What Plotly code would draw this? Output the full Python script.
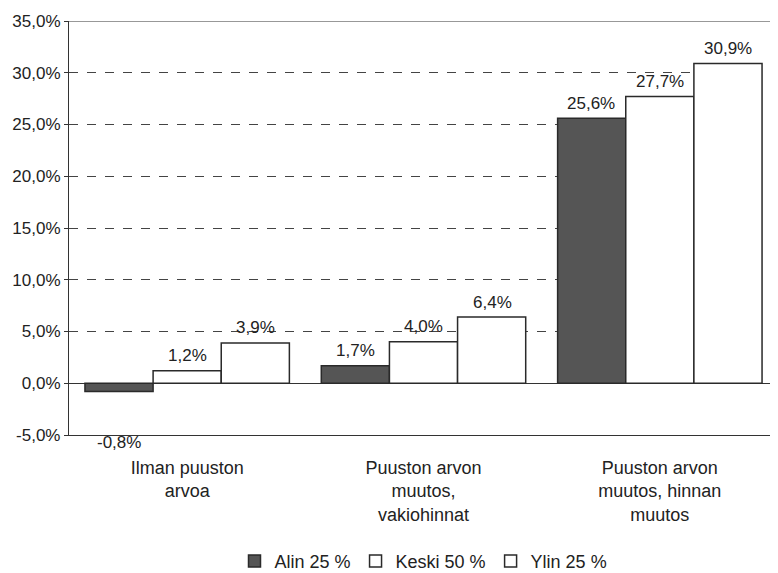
import plotly.graph_objects as go

categories = ["Ilman puuston<br>arvoa", "Puuston arvon<br>muutos,<br>vakiohinnat", "Puuston arvon<br>muutos, hinnan<br>muutos"]
series_names = ["Alin 25 %", "Keski 50 %", "Ylin 25 %"]
alin = [-0.8, 1.7, 25.6]
keski = [1.2, 4.0, 27.7]
ylin = [3.9, 6.4, 30.9]
y_ticks = [-5, 0, 5, 10, 15, 20, 25, 30, 35]
y_tick_text = ["-5,0%", "0,0%", "5,0%", "10,0%", "15,0%", "20,0%", "25,0%", "30,0%", "35,0%"]

FONT = "Liberation Sans, Arial, sans-serif"
TXT = "#222222"
LINE = "#333333"

fills = ["#555555", "#ffffff", "#ffffff"]
fig = go.Figure()
for name, vals, col in zip(series_names, [alin, keski, ylin], fills):
    fig.add_trace(go.Bar(
        x=categories, y=vals, name=name,
        marker=dict(color=col, line=dict(color="#2a2a2a", width=1.5)),
    ))

annotations = []
for i, vals in enumerate([alin, keski, ylin]):
    for j, v in enumerate(vals):
        label = f"{v:.1f}".replace(".", ",") + "%"
        annotations.append(dict(
            x=j, y=v, xref="x", yref="y", text=label, showarrow=False,
            xshift=(i - 1) * 68.5, yshift=15 if v >= 0 else -51,
            font=dict(family=FONT, size=17, color=TXT),
        ))

# page body adds ~8px offset; compensate in figure size/margins
fig.update_layout(
    width=770, height=565,
    margin=dict(l=61, r=0, t=13, b=138, autoexpand=False),
    paper_bgcolor="white", plot_bgcolor="white",
    barmode="group", bargap=0.135, bargroupgap=0,
    font=dict(family=FONT, size=17, color=TXT),
    showlegend=True,
    legend=dict(orientation="h", x=0.5, xanchor="center", y=-0.305, yanchor="middle",
                font=dict(family=FONT, size=18, color=TXT), itemwidth=30,
                traceorder="normal"),
    annotations=annotations,
    shapes=[dict(type="line", xref="paper", yref="y", x0=0, x1=1, y0=35, y1=35,
                 line=dict(color=LINE, width=1.2))],
)
fig.update_yaxes(
    range=[-5, 35], tickvals=y_ticks, ticktext=y_tick_text, automargin=False,
    showgrid=True, gridcolor="#444444", griddash="dash", gridwidth=1,
    zeroline=True, zerolinecolor=LINE, zerolinewidth=1.2,
    showline=True, linecolor=LINE, linewidth=1.2,
    ticks="outside", ticklen=4, tickcolor=LINE,
    tickfont=dict(family=FONT, size=17, color=TXT),
)
fig.update_xaxes(
    showline=True, linecolor=LINE, linewidth=1.2, ticks="", automargin=False,
    tickfont=dict(family=FONT, size=18, color=TXT), ticklabelstandoff=16,
    fixedrange=True,
)

fig.write_html("out.html")
